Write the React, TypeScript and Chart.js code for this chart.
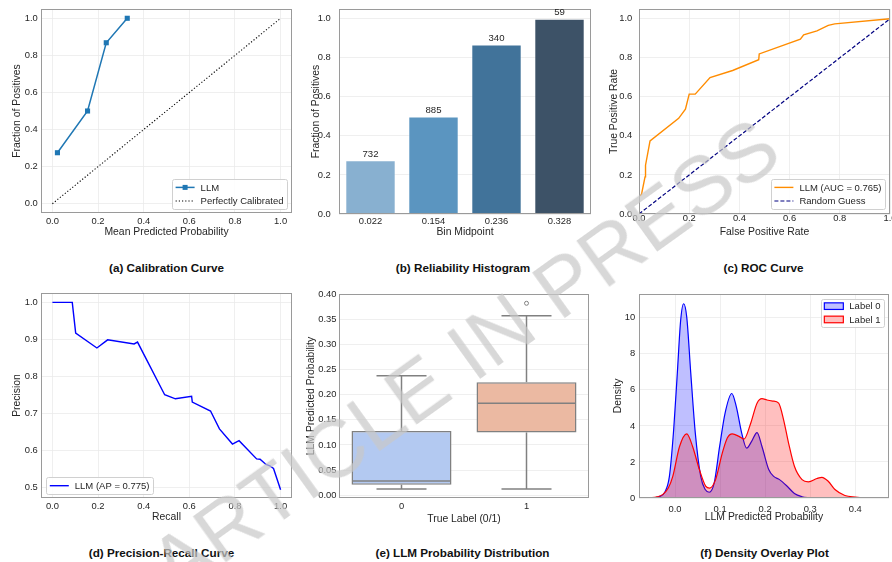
import React, { useEffect, useRef } from 'react';
import { Chart, registerables } from 'chart.js';

Chart.register(...registerables);

const FONT = '"Liberation Sans", Arial, Helvetica, sans-serif';
const TEXT = '#262626';
const GRID = '#ebebeb';
const FRAME = '#9a9a9a';
const BOXLINE = '#808080';

// (a) Calibration curve
const calibBins = [0.022, 0.154, 0.236, 0.328];
const calibFrac = [0.275, 0.5, 0.868, 1.0];
const diagX = [0, 1];
const diagY = [0, 1];
const unitTicks = [0, 0.2, 0.4, 0.6, 0.8, 1.0];

// (b) Reliability histogram
const binLabels = ['0.022', '0.154', '0.236', '0.328'];
const binFrac = [0.275, 0.5, 0.868, 1.0];
const binCounts = [732, 885, 340, 59];
const binColors = ['#88b0d0', '#5b95c0', '#41739a', '#3d5267'];

// (c) ROC curve
const rocFpr = [0, 0, 0.01, 0.024, 0.026, 0.044, 0.158, 0.185, 0.2, 0.224, 0.283, 0.373, 0.477, 0.479, 0.643, 0.656, 0.709, 0.754, 0.78, 1.0];
const rocTpr = [0, 0.09, 0.1, 0.19, 0.25, 0.374, 0.49, 0.537, 0.614, 0.614, 0.699, 0.735, 0.79, 0.82, 0.896, 0.918, 0.938, 0.966, 0.974, 1.0];
const rocAuc = 0.765;

// (d) Precision-recall curve
const prRecall = [0, 0.087, 0.102, 0.195, 0.242, 0.358, 0.373, 0.492, 0.539, 0.61, 0.613, 0.693, 0.732, 0.789, 0.818, 0.895, 0.91, 0.936, 0.953, 0.969, 1.0];
const prPrecision = [1.0, 1.0, 0.917, 0.877, 0.899, 0.888, 0.893, 0.751, 0.74, 0.747, 0.731, 0.707, 0.659, 0.618, 0.627, 0.578, 0.577, 0.563, 0.559, 0.552, 0.495];
const prAp = 0.775;
const prTicks = [0.5, 0.6, 0.7, 0.8, 0.9, 1.0];

// (e) Box plot
const boxLabels = ['0', '1'];
const boxMin = [0.0125, 0.0125];
const boxQ1 = [0.021, 0.125];
const boxMed = [0.0285, 0.183];
const boxQ3 = [0.128, 0.225];
const boxMax = [0.238, 0.357];
const boxOutliers = [null, 0.382];
const boxColors = ['#b3c9f1', '#ebb9a2'];
const boxTicks = [0, 0.05, 0.1, 0.15, 0.2, 0.25, 0.3, 0.35, 0.4];

// (f) Density overlay
const kde0X = [-0.055, -0.045, -0.035, -0.0235, -0.0125, -0.003, 0.005, 0.0125, 0.019, 0.026, 0.035, 0.045, 0.057, 0.067, 0.076, 0.087, 0.099, 0.111, 0.126, 0.136, 0.148, 0.159, 0.17, 0.182, 0.193, 0.208, 0.219, 0.232, 0.249, 0.265, 0.282, 0.3];
const kde0Y = [0, 0.02, 0.08, 0.29, 1.2, 3.8, 6.9, 9.86, 10.78, 10.04, 6.9, 3.6, 1.2, 0.47, 0.32, 0.84, 2.86, 4.7, 5.8, 5.07, 3.6, 2.77, 3.14, 3.63, 2.86, 1.58, 1.2, 1.02, 0.65, 0.25, 0.07, 0];
const kde1X = [-0.057, -0.04, -0.027, -0.015, -0.005, 0.01, 0.026, 0.039, 0.054, 0.068, 0.077, 0.09, 0.105, 0.116, 0.127, 0.142, 0.153, 0.168, 0.182, 0.193, 0.204, 0.217, 0.23, 0.241, 0.252, 0.265, 0.282, 0.296, 0.315, 0.326, 0.34, 0.355, 0.377, 0.4, 0.425, 0.45];
const kde1Y = [0, 0.06, 0.2, 0.55, 1.2, 2.86, 3.56, 2.86, 1.58, 0.66, 0.55, 1.02, 2.5, 3.33, 3.56, 3.42, 3.27, 4.15, 5.26, 5.51, 5.44, 5.38, 5.26, 4.34, 3.05, 1.76, 1.02, 0.9, 1.08, 1.15, 0.93, 0.47, 0.14, 0.05, 0.01, 0];
const densXTicks = [0, 0.1, 0.2, 0.3, 0.4];
const densYTicks = [0, 2, 4, 6, 8, 10];

const captions = [
  '(a) Calibration Curve',
  '(b) Reliability Histogram',
  '(c) ROC Curve',
  '(d) Precision-Recall Curve',
  '(e) LLM Probability Distribution',
  '(f) Density Overlay Plot',
];

const pts = (xs: number[], ys: number[]) => xs.map((x, i) => ({ x, y: ys[i] }));

function axis(o: any) {
  const horizontal = o.pos === 'x';
  const ax: any = {
    type: o.type || 'linear',
    afterFit: (s: any) => {
      if (horizontal) s.height = o.size;
      else s.width = o.size;
      s.paddingLeft = 0;
      s.paddingRight = 0;
      s.paddingTop = 0;
      s.paddingBottom = 0;
    },
    grid: { display: o.grid !== false, color: GRID, lineWidth: 0.8, drawTicks: false },
    border: { display: false },
    ticks: {
      padding: o.tickPad,
      color: TEXT,
      font: { family: FONT, size: 9.4 },
      maxRotation: 0,
      minRotation: 0,
      autoSkip: false,
    },
    title: {
      display: true,
      text: o.title,
      color: TEXT,
      font: { family: FONT, size: 10.4 },
      padding: horizontal ? { top: 0, bottom: o.titlePad } : { top: o.titlePad, bottom: 0 },
    },
  };
  if (o.min !== undefined) ax.min = o.min;
  if (o.max !== undefined) ax.max = o.max;
  if (o.ticks) {
    const tv = o.ticks;
    ax.afterBuildTicks = (s: any) => {
      s.ticks = tv.map((v: number) => ({ value: v }));
    };
  }
  if (o.dec !== undefined) {
    const d = o.dec;
    ax.ticks.callback = (v: any) => Number(v).toFixed(d);
  }
  return ax;
}

const framePlugin = {
  id: 'frame',
  afterDatasetsDraw(chart: any) {
    const { ctx, chartArea: a } = chart;
    ctx.save();
    ctx.strokeStyle = FRAME;
    ctx.lineWidth = 1;
    ctx.strokeRect(Math.round(a.left) + 0.5, Math.round(a.top) + 0.5, Math.round(a.right - a.left) - 1, Math.round(a.bottom - a.top) - 1);
    ctx.restore();
  },
};

function legendPlugin(items: any[], corner: string, inset: number[], rowH = 13.6, padY = 1.2) {
  return {
    id: 'boxLegend',
    afterDraw(chart: any) {
      const { ctx, chartArea: a } = chart;
      ctx.save();
      ctx.font = `9.5px ${FONT}`;
      const tw = Math.max(...items.map((it) => ctx.measureText(it.label).width));
      const padX = 3.5, hw = 19, gap = 6;
      const w = padX * 2 + hw + gap + tw;
      const h = padY * 2 + rowH * items.length;
      const x = corner[1] === 'r' ? a.right - inset[0] - w : a.left + inset[0];
      const y = corner[0] === 'b' ? a.bottom - inset[1] - h : a.top + inset[1];
      ctx.beginPath();
      if ((ctx as any).roundRect) (ctx as any).roundRect(Math.round(x) + 0.5, Math.round(y) + 0.5, Math.round(w), Math.round(h), 2);
      else ctx.rect(Math.round(x) + 0.5, Math.round(y) + 0.5, Math.round(w), Math.round(h));
      ctx.fillStyle = 'rgba(255,255,255,0.85)';
      ctx.fill();
      ctx.strokeStyle = '#d0d0d0';
      ctx.lineWidth = 1;
      ctx.stroke();
      items.forEach((it, i) => {
        const cy = y + padY + rowH * (i + 0.5);
        const hx = x + padX;
        ctx.setLineDash(it.dash || []);
        if (it.kind === 'patch') {
          ctx.fillStyle = it.fill;
          ctx.fillRect(hx, cy - 3.3, hw, 6.6);
          ctx.strokeStyle = it.color;
          ctx.lineWidth = 1.2;
          ctx.strokeRect(hx, cy - 3.3, hw, 6.6);
        } else {
          ctx.strokeStyle = it.color;
          ctx.lineWidth = it.width || 1.5;
          ctx.beginPath();
          ctx.moveTo(hx, cy);
          ctx.lineTo(hx + hw, cy);
          ctx.stroke();
          if (it.kind === 'marker') {
            ctx.fillStyle = it.color;
            ctx.fillRect(hx + hw / 2 - 2.5, cy - 2.5, 5, 5);
          }
        }
        ctx.setLineDash([]);
        ctx.fillStyle = TEXT;
        ctx.textBaseline = 'middle';
        ctx.textAlign = 'left';
        ctx.fillText(it.label, hx + hw + gap, cy + 0.5);
      });
      ctx.restore();
    },
  };
}

function barLabelPlugin(labels: number[]) {
  return {
    id: 'barLabels',
    afterDatasetsDraw(chart: any) {
      const { ctx } = chart;
      const meta = chart.getDatasetMeta(0);
      ctx.save();
      ctx.font = `9.6px ${FONT}`;
      ctx.fillStyle = TEXT;
      ctx.textAlign = 'center';
      ctx.textBaseline = 'alphabetic';
      meta.data.forEach((el: any, i: number) => {
        ctx.fillText(String(labels[i]), el.x, el.y - 3.5);
      });
      ctx.restore();
    },
  };
}

const boxWhiskerPlugin = {
  id: 'boxWhisker',
  afterDatasetsDraw(chart: any) {
    const { ctx } = chart;
    const ys = chart.scales.y;
    const meta = chart.getDatasetMeta(0);
    ctx.save();
    ctx.strokeStyle = BOXLINE;
    ctx.lineWidth = 1.5;
    const line = (x1: number, y1: number, x2: number, y2: number) => {
      ctx.beginPath();
      ctx.moveTo(x1, y1);
      ctx.lineTo(x2, y2);
      ctx.stroke();
    };
    meta.data.forEach((el: any, i: number) => {
      const x = el.x;
      const half = el.width / 2;
      const pMin = ys.getPixelForValue(boxMin[i]);
      const pQ1 = ys.getPixelForValue(boxQ1[i]);
      const pMed = ys.getPixelForValue(boxMed[i]);
      const pQ3 = ys.getPixelForValue(boxQ3[i]);
      const pMax = ys.getPixelForValue(boxMax[i]);
      line(x, pQ3, x, pMax);
      line(x, pQ1, x, pMin);
      line(x - half / 2, pMax, x + half / 2, pMax);
      line(x - half / 2, pMin, x + half / 2, pMin);
      line(x - half + 0.75, pMed, x + half - 0.75, pMed);
    });
    ctx.restore();
  },
};

function base(pad: any, scales: any) {
  return {
    responsive: false,
    animation: false,
    events: [],
    layout: { padding: pad },
    plugins: { legend: { display: false }, tooltip: { enabled: false } },
    scales,
  };
}

function buildConfigs(): any[] {
  const a = {
    type: 'line',
    data: {
      datasets: [
        {
          label: 'LLM',
          data: pts(calibBins, calibFrac),
          borderColor: '#1f77b4',
          backgroundColor: '#1f77b4',
          borderWidth: 1.5,
          pointStyle: 'rect',
          pointRadius: 3.6,
          pointBorderWidth: 0,
        },
        {
          label: 'Perfectly Calibrated',
          data: pts(diagX, diagY),
          borderColor: '#000000',
          borderWidth: 1.1,
          borderDash: [1.2, 2],
          pointRadius: 0,
        },
      ],
    },
    options: base({ left: 0, top: 9, right: 5, bottom: 0 }, {
      x: axis({ pos: 'x', min: -0.05, max: 1.05, ticks: unitTicks, dec: 1, size: 27, tickPad: 2.4, title: 'Mean Predicted Probability', titlePad: 1.4 }),
      y: axis({ pos: 'y', min: -0.05, max: 1.05, ticks: unitTicks, dec: 1, size: 41, tickPad: 3.3, title: 'Fraction of Positives', titlePad: 10.7 }),
    }),
    plugins: [
      framePlugin,
      legendPlugin(
        [
          { label: 'LLM', kind: 'marker', color: '#1f77b4' },
          { label: 'Perfectly Calibrated', kind: 'line', color: '#000000', dash: [1.2, 2], width: 1.1 },
        ],
        'br',
        [5, 4]
      ),
    ],
  };

  const b = {
    type: 'bar',
    data: {
      labels: binLabels,
      datasets: [
        {
          data: binFrac,
          backgroundColor: binColors,
          borderColor: 'rgba(255,255,255,0.4)',
          borderWidth: 1,
          barPercentage: 0.8,
          categoryPercentage: 1,
        },
      ],
    },
    options: base({ left: 0, top: 9, right: 3, bottom: 0 }, {
      x: axis({ pos: 'x', type: 'category', grid: false, size: 26, tickPad: 1.4, title: 'Bin Midpoint', titlePad: 1.5 }),
      y: axis({ pos: 'y', min: 0, max: 1.05, ticks: unitTicks, dec: 1, size: 42, tickPad: 8.3, title: 'Fraction of Positives', titlePad: 12.5 }),
    }),
    plugins: [framePlugin, barLabelPlugin(binCounts)],
  };

  const c = {
    type: 'line',
    data: {
      datasets: [
        {
          label: `LLM (AUC = ${rocAuc.toFixed(3)})`,
          data: pts(rocFpr, rocTpr),
          borderColor: '#ff8c00',
          borderWidth: 1.4,
          pointRadius: 0,
        },
        {
          label: 'Random Guess',
          data: pts(diagX, diagY),
          borderColor: '#000080',
          borderWidth: 1.2,
          borderDash: [4, 2],
          pointRadius: 0,
        },
      ],
    },
    options: base({ left: 0, top: 9, right: 2, bottom: 0 }, {
      x: axis({ pos: 'x', min: 0, max: 1, ticks: unitTicks, dec: 1, size: 26, tickPad: -1.3, title: 'False Positive Rate', titlePad: 1.5 }),
      y: axis({ pos: 'y', min: 0, max: 1.05, ticks: unitTicks, dec: 1, size: 45, tickPad: 6.7, title: 'True Positive Rate', titlePad: 14 }),
    }),
    plugins: [
      framePlugin,
      legendPlugin(
        [
          { label: `LLM (AUC = ${rocAuc.toFixed(3)})`, kind: 'line', color: '#ff8c00', width: 1.4 },
          { label: 'Random Guess', kind: 'line', color: '#000080', dash: [4, 2], width: 1.2 },
        ],
        'br',
        [5, 5]
      ),
    ],
  };

  const d = {
    type: 'line',
    data: {
      datasets: [
        {
          label: `LLM (AP = ${prAp.toFixed(3)})`,
          data: pts(prRecall, prPrecision),
          borderColor: '#0000ff',
          borderWidth: 1.4,
          pointRadius: 0,
        },
      ],
    },
    options: base({ left: 0, top: 13, right: 5, bottom: 0 }, {
      x: axis({ pos: 'x', min: -0.05, max: 1.05, ticks: unitTicks, dec: 1, size: 27, tickPad: 3.1, title: 'Recall', titlePad: 1.5 }),
      y: axis({ pos: 'y', min: 0.4725, max: 1.0253, ticks: prTicks, dec: 1, size: 41, tickPad: 3.3, title: 'Precision', titlePad: 11 }),
    }),
    plugins: [
      framePlugin,
      legendPlugin([{ label: `LLM (AP = ${prAp.toFixed(3)})`, kind: 'line', color: '#0000ff', width: 1.4 }], 'bl', [5.3, 4], 13.6, 1.5),
    ],
  };

  const e = {
    type: 'bar',
    data: {
      labels: boxLabels,
      datasets: [
        {
          type: 'bar',
          data: boxQ1.map((q, i) => [q, boxQ3[i]]),
          backgroundColor: boxColors,
          borderColor: BOXLINE,
          borderWidth: 1.5,
          borderSkipped: false,
          barPercentage: 0.8,
          categoryPercentage: 1,
        },
        {
          type: 'line',
          data: boxOutliers,
          showLine: false,
          pointRadius: 2,
          pointBorderWidth: 1,
          pointBorderColor: BOXLINE,
          pointBackgroundColor: 'rgba(0,0,0,0)',
        },
      ],
    },
    options: base({ left: 0, top: 14, right: 3, bottom: 0 }, {
      x: axis({ pos: 'x', type: 'category', grid: false, size: 27, tickPad: 3.1, title: 'True Label (0/1)', titlePad: 0 }),
      y: axis({ pos: 'y', min: -0.0055, max: 0.4005, ticks: boxTicks, dec: 2, size: 42, tickPad: 2.5, title: 'LLM Predicted Probability', titlePad: 7.8 }),
    }),
    plugins: [boxWhiskerPlugin, framePlugin],
  };

  const f = {
    type: 'line',
    data: {
      datasets: [
        {
          label: 'Label 0',
          data: pts(kde0X, kde0Y),
          borderColor: '#0000ff',
          backgroundColor: 'rgba(0,0,255,0.25)',
          borderWidth: 1.2,
          fill: 'origin',
          pointRadius: 0,
          cubicInterpolationMode: 'monotone',
          order: 1,
        },
        {
          label: 'Label 1',
          data: pts(kde1X, kde1Y),
          borderColor: '#ff0000',
          backgroundColor: 'rgba(255,0,0,0.25)',
          borderWidth: 1.2,
          fill: 'origin',
          pointRadius: 0,
          cubicInterpolationMode: 'monotone',
          order: 0,
        },
      ],
    },
    options: base({ left: 0, top: 14, right: 3, bottom: 0 }, {
      x: axis({ pos: 'x', min: -0.08, max: 0.475, ticks: densXTicks, dec: 1, size: 27, tickPad: 5.4, title: 'LLM Predicted Probability', titlePad: 1.5 }),
      y: axis({ pos: 'y', min: 0, max: 11.32, ticks: densYTicks, dec: 0, size: 45, tickPad: 3.7, title: 'Density', titlePad: 17.5 }),
    }),
    plugins: [
      framePlugin,
      legendPlugin(
        [
          { label: 'Label 0', kind: 'patch', color: '#0000ff', fill: 'rgba(0,0,255,0.25)' },
          { label: 'Label 1', kind: 'patch', color: '#ff0000', fill: 'rgba(255,0,0,0.25)' },
        ],
        'tr',
        [5, 5],
        13.3,
        0.5
      ),
    ],
  };

  return [a, b, c, d, e, f];
}

const panels = [
  { left: 0, top: 0, width: 297, height: 240, capX: 166.5, capY: 268.3 },
  { left: 297, top: 0, width: 297, height: 240, capX: 463, capY: 268.3 },
  { left: 594, top: 0, width: 298, height: 240, capX: 763.5, capY: 268.3 },
  { left: 0, top: 280, width: 297, height: 245, capX: 161.5, capY: 552.8 },
  { left: 297, top: 280, width: 297, height: 245, capX: 462.5, capY: 552.8 },
  { left: 594, top: 280, width: 298, height: 245, capX: 764.5, capY: 553 },
];

export default function App() {
  const refs = [
    useRef<HTMLCanvasElement>(null),
    useRef<HTMLCanvasElement>(null),
    useRef<HTMLCanvasElement>(null),
    useRef<HTMLCanvasElement>(null),
    useRef<HTMLCanvasElement>(null),
    useRef<HTMLCanvasElement>(null),
  ];

  useEffect(() => {
    const charts: any[] = [];
    const configs = buildConfigs();
    configs.forEach((cfg, i) => {
      const cv = refs[i].current;
      if (cv) charts.push(new Chart(cv, cfg));
    });
    return () => charts.forEach((ch) => ch.destroy());
  }, []);

  return (
    <div style={{ position: 'absolute', left: 0, top: 0, width: 892, height: 562, background: '#ffffff', overflow: 'hidden' }}>
      {panels.map((p, i) => (
        <canvas
          key={'c' + i}
          ref={refs[i]}
          width={p.width}
          height={p.height}
          style={{ position: 'absolute', left: p.left, top: p.top, width: p.width, height: p.height }}
        />
      ))}
      {panels.map((p, i) => (
        <div
          key={'t' + i}
          style={{
            position: 'absolute',
            left: p.capX - 150,
            top: p.capY - 7,
            width: 300,
            height: 14,
            lineHeight: '14px',
            textAlign: 'center',
            fontFamily: FONT,
            fontWeight: 'bold',
            fontSize: 11.7,
            color: '#111111',
            whiteSpace: 'nowrap',
          }}
        >
          {captions[i]}
        </div>
      ))}
      <div
        style={{
          position: 'absolute',
          left: 464,
          top: 356,
          transform: 'translate(-50%, -50%) rotate(-35.7deg)',
          fontFamily: FONT,
          fontSize: 82,
          lineHeight: 1,
          color: 'rgba(200,200,200,0.7)',
          whiteSpace: 'nowrap',
          pointerEvents: 'none',
        }}
      >
        ARTICLE IN PRESS
      </div>
    </div>
  );
}
